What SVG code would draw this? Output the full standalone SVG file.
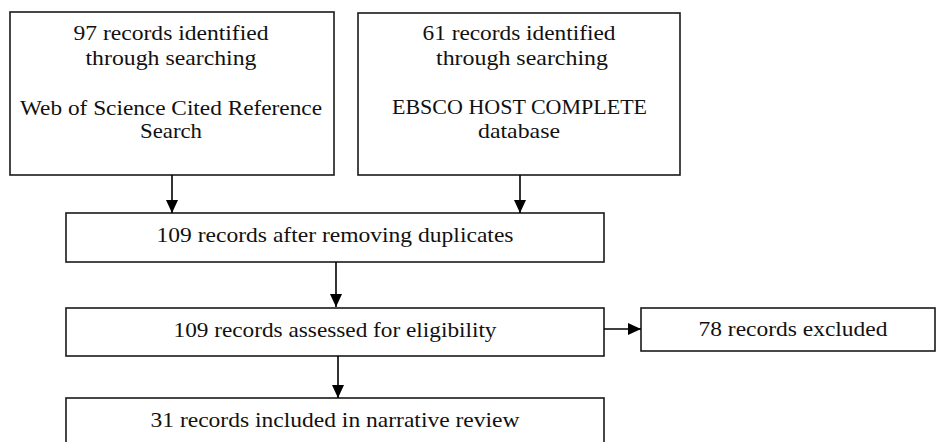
<svg xmlns="http://www.w3.org/2000/svg" width="937" height="442" viewBox="0 0 937 442">
<style>
.box{fill:#fff;stroke:#1a1a1a;stroke-width:1.6}
.t{font-family:"Liberation Serif","Times New Roman",serif;font-size:22px;fill:#111;text-anchor:middle}
.c{stroke:#000;stroke-width:1.6;fill:none;marker-end:url(#ah)}
</style>
<defs>
<marker id="ah" viewBox="0 0 13 12" refX="13" refY="6" markerWidth="13" markerHeight="12" markerUnits="userSpaceOnUse" orient="auto">
<path d="M0,0 L13,6 L0,12 z" fill="#000"/>
</marker>
</defs>
<rect width="937" height="442" fill="#fff"/>
<g id="n1">
<rect class="box" x="10" y="12" width="324" height="163"/>
<text class="t" x="171" y="40" textLength="195" lengthAdjust="spacingAndGlyphs">97 records identified</text>
<text class="t" x="171" y="65" textLength="171" lengthAdjust="spacingAndGlyphs">through searching</text>
<text class="t" x="171" y="115" textLength="302" lengthAdjust="spacingAndGlyphs">Web of Science Cited Reference</text>
<text class="t" x="171" y="138" textLength="62" lengthAdjust="spacingAndGlyphs">Search</text>
</g>
<g id="n2">
<rect class="box" x="358" y="13" width="322" height="162"/>
<text class="t" x="519" y="40" textLength="193" lengthAdjust="spacingAndGlyphs">61 records identified</text>
<text class="t" x="522" y="65" textLength="172" lengthAdjust="spacingAndGlyphs">through searching</text>
<text class="t" x="519.5" y="114" textLength="255" lengthAdjust="spacingAndGlyphs">EBSCO HOST COMPLETE</text>
<text class="t" x="519" y="138" textLength="82" lengthAdjust="spacingAndGlyphs">database</text>
</g>
<g id="n3">
<rect class="box" x="66" y="213" width="538" height="49"/>
<text class="t" x="335" y="242" textLength="357" lengthAdjust="spacingAndGlyphs">109 records after removing duplicates</text>
</g>
<g id="n4">
<rect class="box" x="66" y="308" width="538" height="48"/>
<text class="t" x="335" y="337" textLength="323" lengthAdjust="spacingAndGlyphs">109 records assessed for eligibility</text>
</g>
<g id="n5">
<rect class="box" x="66" y="398" width="538" height="60"/>
<text class="t" x="335" y="427" textLength="369" lengthAdjust="spacingAndGlyphs">31 records included in narrative review</text>
</g>
<g id="n6">
<rect class="box" x="641" y="308" width="294" height="43"/>
<text class="t" x="793" y="336" textLength="189" lengthAdjust="spacingAndGlyphs">78 records excluded</text>
</g>
<g id="connectors">
<line class="c" x1="172" y1="175" x2="172" y2="213"/>
<line class="c" x1="520" y1="175" x2="520" y2="213"/>
<line class="c" x1="336" y1="262" x2="336" y2="307"/>
<line class="c" x1="338" y1="356" x2="338" y2="398"/>
<line class="c" x1="604" y1="329" x2="641" y2="329"/>
</g>
</svg>
